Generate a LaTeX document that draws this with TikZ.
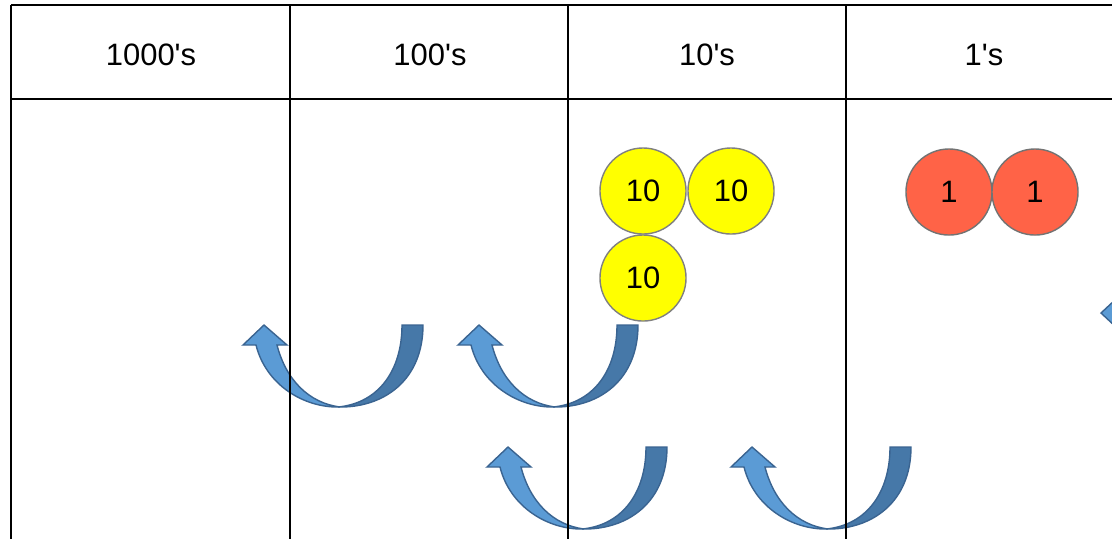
\documentclass[tikz,border=0pt]{standalone}
\usepackage{fontspec}
\setmainfont{Liberation Sans}

\definecolor{coinyellow}{RGB}{255,255,0}
\definecolor{coinred}{RGB}{255,99,71}
\definecolor{arrowlight}{RGB}{91,155,213}
\definecolor{arrowdark}{RGB}{70,120,168}
\definecolor{arrowline}{RGB}{58,100,145}

\tikzset{
  coin/.style={circle, draw=gray, minimum size=0.86cm, inner sep=0pt,
    font=\fontsize{8.8}{10}\selectfont},
  ten/.style={coin, fill=coinyellow},
  one/.style={coin, fill=coinred, draw=black!55},
  head/.style={font=\fontsize{8.8}{10}\selectfont},
  rule/.style={line width=0.02cm, black},
}

% curved carry arrow, head tip at (#1,#2)
\newcommand{\carry}[2]{%
  \begin{scope}[shift={(#1,#2)}]
    \filldraw[fill=arrowdark, draw=arrowline]
      (138,0) -- (159,0) .. controls (159,55) and (120,83) .. (74,82)
      .. controls (115,78) and (138,45) .. (138,0) -- cycle;
    \filldraw[fill=arrowlight, draw=arrowline]
      (-21,20) -- (0,0) -- (23,20) -- (13,20) .. controls (22,55) and (45,78) .. (76,82)
      .. controls (40,83) and (2,60) .. (-8,20) -- cycle;
  \end{scope}}

\begin{document}
\begin{tikzpicture}[x=0.01cm, y=-0.01cm]
  \useasboundingbox (0,0) rectangle (1112,538);
  \clip (0,0) rectangle (1112,538);

  % carries
  \carry{264}{325}
  \carry{479}{325}
  \carry{508}{447}
  \carry{752}{447}
  \filldraw[fill=arrowlight, draw=arrowline] (1101,313) -- (1116,299) -- (1116,327) -- cycle;

  % table
  \begin{scope}[rule]
    \draw (11,5) -- (1116,5);
    \draw (11,99) -- (1116,99);
    \foreach \x in {11,290,568,846}
      \draw (\x,5) -- (\x,540);
  \end{scope}

  \node[head] (thousands) at (151,55) {1000\textquotesingle s};
  \node[head] (hundreds) at (430,55) {100\textquotesingle s};
  \node[head] (tens) at (707,55) {10\textquotesingle s};
  \node[head] (ones) at (984,55) {1\textquotesingle s};

  % counters
  \node[ten] (ten1) at (643,191) {10};
  \node[ten] (ten2) at (731,191) {10};
  \node[ten] (ten3) at (643,278) {10};
  \node[one] (one1) at (949,192) {1};
  \node[one] (one2) at (1035,192) {1};
\end{tikzpicture}
\end{document}
